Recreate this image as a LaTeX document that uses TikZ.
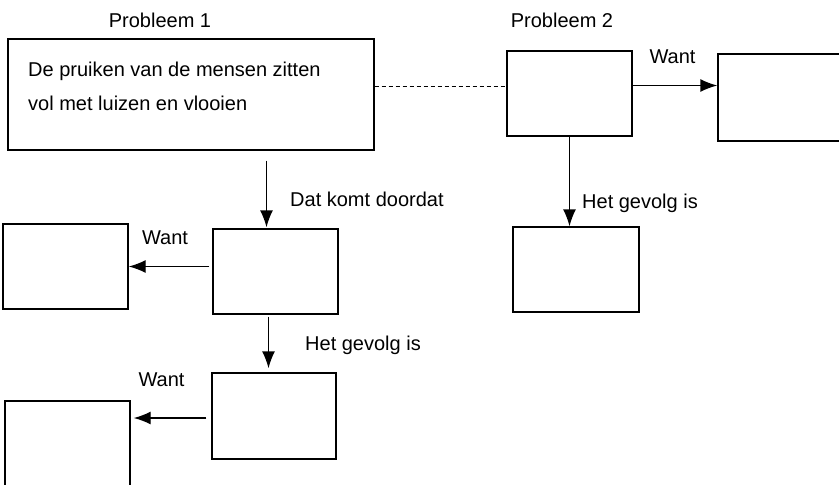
\documentclass[tikz,border=0pt]{standalone}
\usepackage{fontspec}
\setmainfont{Liberation Sans}
\usepackage{tikz}
\usetikzlibrary{positioning,arrows.meta}

\begin{document}
\begin{tikzpicture}[x=1pt, y=-1pt, font=\fontsize{20}{24}\selectfont,
  box/.style={draw, line width=1.4pt, rectangle, inner sep=0pt},
  link/.style={-{Latex[length=17pt,width=13pt]}, line width=1.4pt},
  lbl/.style={inner sep=0pt}]
\useasboundingbox (0,0) rectangle (839,485);
\clip (0,0) rectangle (839,485);
% boxes
\node[box, minimum width=366pt, minimum height=111pt] (p1) at (191,94.5) {};
\node[box, minimum width=125pt, minimum height=85pt] (p2) at (569.5,93.5) {};
\node[box, minimum width=142pt, minimum height=87pt] (r1) at (789,97.5) {};
\node[box, minimum width=126pt, minimum height=85pt] (r2) at (576,269.5) {};
\node[box, minimum width=125pt, minimum height=85pt] (m1) at (275.5,271.5) {};
\node[box, minimum width=125pt, minimum height=85pt] (l1) at (65.5,266.5) {};
\node[box, minimum width=124pt, minimum height=86pt] (m2) at (274,416) {};
\node[box, minimum width=125pt, minimum height=109pt] (l2) at (67.5,455.5) {};
% box text
\node[lbl, anchor=base west] (p1a) at (28,76) {De pruiken van de mensen zitten};
\node[lbl, anchor=base west] (p1b) at (28,110) {vol met luizen en vlooien};
% titles and labels
\node[lbl, anchor=base] (t1) at (160,27) {Probleem 1};
\node[lbl, anchor=base] (t2) at (562,27) {Probleem 2};
\node[lbl, anchor=base] (w1) at (672.5,63) {Want};
\node[lbl, anchor=base west] (d1) at (290,206) {Dat komt doordat};
\node[lbl, anchor=base west] (g1) at (582,208) {Het gevolg is};
\node[lbl, anchor=base] (w2) at (165,244) {Want};
\node[lbl, anchor=base west] (g2) at (305,350) {Het gevolg is};
\node[lbl, anchor=base] (w3) at (161.5,386) {Want};
% connectors
\draw[line width=1pt, dash pattern=on 4pt off 3pt] ([yshift=8pt]p1.east) -- ([yshift=8pt]p1.east -| p2.west);
\draw[link] ([yshift=8pt]p2.east) -- ([yshift=8pt]p2.east -| r1.west);
\draw[link] (p2.south) -- (p2.south |- r2.north);
\coordinate (a1) at ([xshift=-9pt]m1.north);
\draw[link, shorten <=10pt, shorten >=1pt] (p1.south -| a1) -- (a1);
\draw[link, shorten <=3pt] ([yshift=5pt]m1.west) -- ([yshift=5pt]m1.west -| l1.east);
\draw[link, shorten <=2pt, shorten >=4pt] ([xshift=-7pt]m1.south) -- ([xshift=-7pt]m1.south |- m2.north);
\draw[link, shorten <=5pt, shorten >=3pt] ([yshift=-2pt]m2.west) -- ([yshift=-2pt]m2.west -| l2.east);
\end{tikzpicture}
\end{document}
